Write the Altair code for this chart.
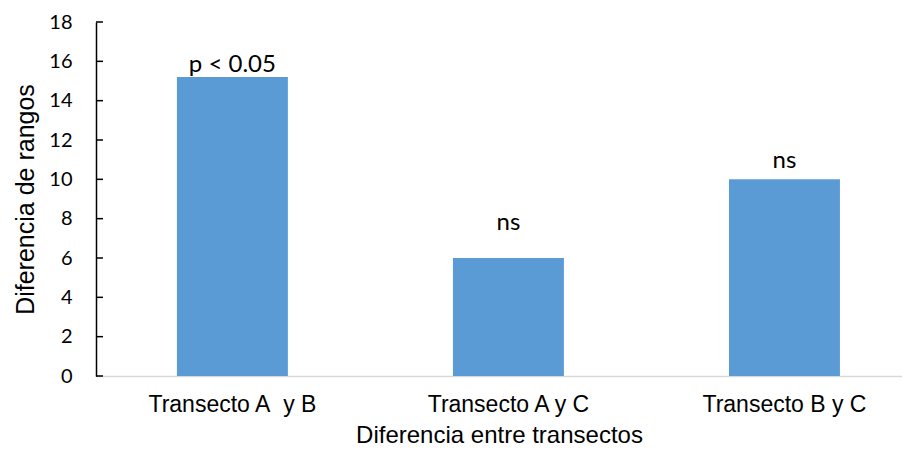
import altair as alt
import pandas as pd

categories = ["Transecto A\u00a0 y B", "Transecto A y C", "Transecto B y C"]
values = [15.2, 6, 10]
labels = ["p < 0.05", "ns", "ns"]
y_ticks = [0, 2, 4, 6, 8, 10, 12, 14, 16, 18]

df = pd.DataFrame({"cat": categories, "val": values, "lab": labels})
ticks_df = pd.DataFrame({"val": y_ticks})

x_enc = alt.X(
    "cat:N", sort=categories, title="Diferencia entre transectos",
    scale=alt.Scale(paddingInner=0.598, paddingOuter=0.259, align=0.566),
    axis=alt.Axis(labelAngle=0, labelFont="Liberation Sans", labelFontSize=23,
                  labelColor="#000000", labelPadding=17, ticks=False,
                  domainColor="#d9d9d9", domainWidth=1.5,
                  titleFont="Liberation Sans", titleFontSize=24,
                  titleFontWeight="normal", titleColor="#000000", titlePadding=7),
)
y_enc = alt.Y(
    "val:Q", title="Diferencia de rangos",
    scale=alt.Scale(domain=[0, 18], nice=False),
    axis=alt.Axis(values=y_ticks, grid=False, ticks=False, domainColor="#000000",
                  domainWidth=1.5, labelFont="Lato", labelFontSize=20,
                  labelColor="#000000", labelPadding=24, labelOverlap=False,
                  titleFont="Liberation Sans", titleFontSize=25,
                  titleFontWeight="normal", titleColor="#000000",
                  titleAngle=270, titleAlign="center", titleBaseline="alphabetic",
                  titleX=-63, titleY=177),
)

bars = alt.Chart(df).mark_bar(color="#5B9BD5").encode(x=x_enc, y=y_enc)

tick_marks = alt.Chart(ticks_df).mark_rule(color="#000000", strokeWidth=1.5).encode(
    y=y_enc,
    x=alt.value(0), x2=alt.value(7),
)

offsets = [-5, -28, -11]
texts = []
for c, off in zip(categories, offsets):
    texts.append(
        alt.Chart(df).transform_filter(alt.datum.cat == c)
        .mark_text(font="Lato", fontSize=24, color="#000000", baseline="alphabetic", dy=off)
        .encode(x=x_enc, y=y_enc, text="lab:N")
    )

chart = alt.layer(bars, tick_marks, *texts).properties(
    width=806, height=354,
    autosize="none",
    padding={"left": 88, "top": 14, "right": 0, "bottom": 72},
).configure_view(stroke=None)

chart.save("out.html", embed_options={"renderer": "svg", "actions": False})
